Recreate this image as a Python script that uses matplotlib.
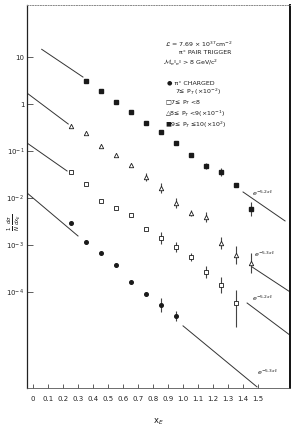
import numpy as np
import matplotlib
matplotlib.use('Agg')
import matplotlib.pyplot as plt

# x_E bin centres
x_fsq = [0.35, 0.45, 0.55, 0.65, 0.75, 0.85, 0.95, 1.05, 1.15, 1.25, 1.35, 1.45]
x_tri = [0.25, 0.35, 0.45, 0.55, 0.65, 0.75, 0.85, 0.95, 1.05, 1.15, 1.25, 1.35, 1.45]
x_osq = [0.25, 0.35, 0.45, 0.55, 0.65, 0.75, 0.85, 0.95, 1.05, 1.15, 1.25, 1.35]
x_dot = [0.25, 0.35, 0.45, 0.55, 0.65, 0.75, 0.85, 0.95]

# 9 <= pT <= 10 (filled squares)
y_fsq = [3.09, 1.89, 1.10, 0.676, 0.394, 0.254, 0.148, 0.0822, 0.0480, 0.0357, 0.0189, 0.00583]
em_fsq = [0, 0, 0, 0, 0, 0, 0, 0, 0.0065, 0.0063, 0, 0.0017]
ep_fsq = [0, 0, 0, 0, 0, 0, 0, 0, 0.0076, 0.0077, 0, 0.0024]

# 8 <= pT < 9 (open triangles)
y_tri = [0.340, 0.2415, 0.128, 0.0822, 0.0504, 0.0280, 0.0163, 0.00783, 0.00480, 0.00394,
         0.00110, 6.12e-4, 4.14e-4]
em_tri = [0, 0, 0, 0, 0, 0.005, 0.0036, 0.0017, 0.0007, 0.0009, 0.00028, 0.00022, 0.00016]
ep_tri = [0, 0, 0, 0, 0, 0.0061, 0.0045, 0.0022, 0.0008, 0.0011, 0.00038, 0.00034, 0.00026]

# 7 <= pT < 8 (open squares)
y_osq = [0.0357, 0.0199, 0.00863, 0.00612, 0.00435, 0.00219, 0.00141, 9.06e-4, 5.55e-4,
         2.67e-4, 1.41e-4, 5.83e-5]
em_osq = [0, 0, 0, 0, 0, 0, 3.6e-4, 2.0e-4, 1.0e-4, 6.8e-5, 4.6e-5, 4.0e-5]
ep_osq = [0, 0, 0, 0, 0, 0, 4.8e-4, 2.5e-4, 1.2e-4, 9.1e-5, 6.8e-5, 5.2e-5]

# pi0 - charged (filled circles)
y_dot = [2.94e-3, 1.16e-3, 6.76e-4, 3.75e-4, 1.63e-4, 9.06e-5, 5.28e-5, 3.08e-5]
em_dot = [0, 0, 0, 0, 0, 0, 1.5e-5, 6.7e-6]
ep_dot = [0, 0, 0, 0, 0, 0, 2.2e-5, 8.6e-6]

# straight exponential guide lines
line_x0 = [0.058, -0.04, -0.04, -0.04, 1.40, 1.46, 1.427, 1.0]
line_x1 = [0.333, 0.235, 0.227, 0.30, 1.68, 1.713, 1.713, 1.493]
line_y0 = [14.6, 1.71, 0.148, 0.0128, 0.0134, 3.4e-4, 5.8e-5, 1.89e-5]
line_y1 = [3.75, 0.375, 0.0375, 0.00155, 0.00324, 1.0e-4, 1.2e-5, 9.5e-7]

slope_labels = [r'$e^{-5.2x_E}$', r'$e^{-5.3x_E}$', r'$e^{-5.2x_E}$', r'$e^{-5.3x_E}$']
slope_lab_x = [1.46, 1.47, 1.46, 1.49]
slope_lab_y = [0.0128, 6.4e-4, 7.45e-5, 1.9e-6]

xticks = np.round(np.arange(0, 1.51, 0.1), 1)
xtick_labels = ['0'] + ['%.1f' % v for v in xticks[1:]]
yticks = [10, 1, 1e-1, 1e-2, 1e-3, 1e-4]
ytick_labels = ['10', '1', r'$10^{-1}$', r'$10^{-2}$', r'$10^{-3}$', r'$10^{-4}$']

ink = '#1a1a1a'

fig = plt.figure(figsize=(2.99, 4.29), dpi=100)
ax = fig.add_axes([0.0903, 0.0956, 0.8796, 0.8927])
ax.set_yscale('log')
ax.set_xlim(-0.04, 1.713)
ax.set_ylim(9.0e-7, 128)

# guide lines
for x0, x1, y0, y1 in zip(line_x0, line_x1, line_y0, line_y1):
    ax.plot([x0, x1], [y0, y1], color='#333333', lw=0.7)

for lab, lx, ly in zip(slope_labels, slope_lab_x, slope_lab_y):
    ax.text(lx, ly, lab, fontsize=4.5, color=ink, va='center', ha='left')

ekw = dict(ls='none', color=ink, ecolor='#444444', elinewidth=0.8, capsize=0)
ax.errorbar(x_fsq, y_fsq, yerr=[em_fsq, ep_fsq], marker='s', ms=3.2, mfc=ink, mec=ink, **ekw)
ax.errorbar(x_tri, y_tri, yerr=[em_tri, ep_tri], marker='^', ms=3.2, mfc='white', mec=ink,
            mew=0.6, **ekw)
ax.errorbar(x_osq, y_osq, yerr=[em_osq, ep_osq], marker='s', ms=3.0, mfc='white', mec=ink,
            mew=0.6, **ekw)
ax.errorbar(x_dot, y_dot, yerr=[em_dot, ep_dot], marker='o', ms=2.6, mfc=ink, mec=ink, **ekw)

ax.set_xticks(xticks)
ax.set_xticklabels(xtick_labels, fontsize=5, color='#222222')
ax.set_yticks(yticks)
ax.set_yticklabels(ytick_labels, fontsize=5, color='#222222')
ax.minorticks_off()
ax.tick_params(axis='x', direction='in', length=3, width=0.6, pad=6, colors='#444444',
               labelcolor='#222222')
ax.tick_params(axis='y', direction='in', length=4, width=0.6, pad=2, colors='#444444',
               labelcolor='#222222')

ax.spines['top'].set_linestyle(':')
ax.spines['top'].set_color('#888888')
ax.spines['top'].set_linewidth(0.7)
ax.spines['right'].set_linewidth(1.4)
ax.spines['right'].set_color('#111111')
ax.spines['left'].set_linewidth(0.9)
ax.spines['left'].set_color('#222222')
ax.spines['bottom'].set_linewidth(0.6)
ax.spines['bottom'].set_color('#555555')

# header text
tkw = dict(transform=ax.transAxes, fontsize=4.5, color=ink, va='center')
ax.text(0.525, 0.896, r'$\mathcal{L}$ = 7.69 × 10$^{37}$cm$^{-2}$', ha='left', **tkw)
ax.text(0.677, 0.875, 'π° PAIR TRIGGER', ha='center', **tkw)
ax.text(0.517, 0.851, r'$\mathcal{M}_{\pi^0\pi^0}$ > 8 GeV/c$^2$', ha='left', **tkw)
ax.text(0.532, 0.796, '● π° CHARGED', ha='left', **tkw)
ax.text(0.563, 0.772, '7≤ P$_T$ (×10$^{-2}$)', ha='left', **tkw)
ax.text(0.525, 0.746, '□7≤ P$_T$ <8', ha='left', **tkw)
ax.text(0.525, 0.717, '△8≤ P$_T$ <9(×10$^{-1}$)', ha='left', **tkw)
ax.text(0.525, 0.687, '■9≤ P$_T$ ≤10(×10$^{2}$)', ha='left', **tkw)

fig.text(14 / 299, (429 - 222) / 429, r'$\frac{1}{N}\,\frac{d\sigma}{dx_E}$', rotation=90,
         fontsize=5.5, color=ink, ha='center', va='center')
fig.text(158 / 299, (429 - 422) / 429, r'x$_E$', fontsize=6, color=ink, ha='center',
         va='center')

fig.savefig('out.png', dpi=100)
